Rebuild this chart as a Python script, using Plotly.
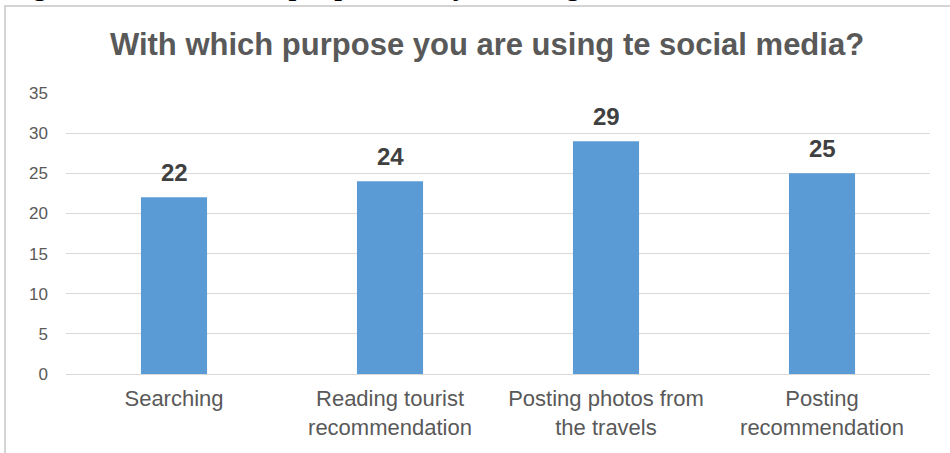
import plotly.graph_objects as go

categories = ["Searching", "Reading tourist<br>recommendation", "Posting photos from<br>the travels", "Posting<br>recommendation"]
values = [22, 24, 29, 25]
y_ticks = [0, 5, 10, 15, 20, 25, 30, 35]
title_text = "With which purpose you are using te social media?"
caption_text = "Figure 6. With which purpose are you using the social media"

W, H = 950, 453
ML, MR, MT, MB = 66, 20, 93, 79
PW, PH = W - ML - MR, H - MT - MB

fig = go.Figure(go.Bar(
    x=categories, y=values,
    marker=dict(color="#5b9bd5", line=dict(width=0)),
))

for c, v in zip(categories, values):
    fig.add_annotation(x=c, y=v, text="<b>%d</b>" % v, showarrow=False,
                       yanchor="bottom", yshift=9,
                       font=dict(family="Liberation Sans", size=24, color="#404040"))

fig.update_layout(
    width=W, height=H,
    margin=dict(l=ML, r=MR, t=MT, b=MB, autoexpand=False),
    paper_bgcolor="white", plot_bgcolor="white",
    bargap=0.694,
    showlegend=False,
    title=dict(text="<b>" + title_text + "</b>", x=487 / W, xanchor="center", y=1 - 44 / H, yanchor="middle",
               font=dict(family="Liberation Sans", size=31, color="#595959")),
    font=dict(family="Liberation Sans", color="#595959"),
)
fig.update_yaxes(range=[0, 35], tickvals=y_ticks, showgrid=True, gridcolor="#d9d9d9", gridwidth=1,
                 zeroline=False, showline=False, ticks="", ticklabelstandoff=17, automargin=False,
                 tickfont=dict(size=17, color="#595959"))
fig.update_xaxes(showline=True, linecolor="#d9d9d9", linewidth=1, ticks="", automargin=False,
                 ticklabelstandoff=5, tickfont=dict(size=22, color="#595959"))

# outer chart frame
fig.add_shape(type="rect", xref="paper", yref="paper",
              x0=(5 - ML) / PW, x1=1 + 60 / PW, y0=-(MB + 20) / PH, y1=1 + (MT - 6) / PH,
              line=dict(color="#d4d4d4", width=2), fillcolor="rgba(0,0,0,0)", layer="below")
# cut-off caption above the chart
fig.add_annotation(text="<i>" + caption_text + "</i>", xref="paper", yref="paper",
                   x=(2 - ML) / PW, xanchor="left", y=1 + (MT - 3) / PH, yanchor="bottom", showarrow=False,
                   font=dict(family="Liberation Serif", size=33, color="black"))

fig.write_html("out.html", config={"displayModeBar": False},
               post_script="document.body.style.margin='0';")
